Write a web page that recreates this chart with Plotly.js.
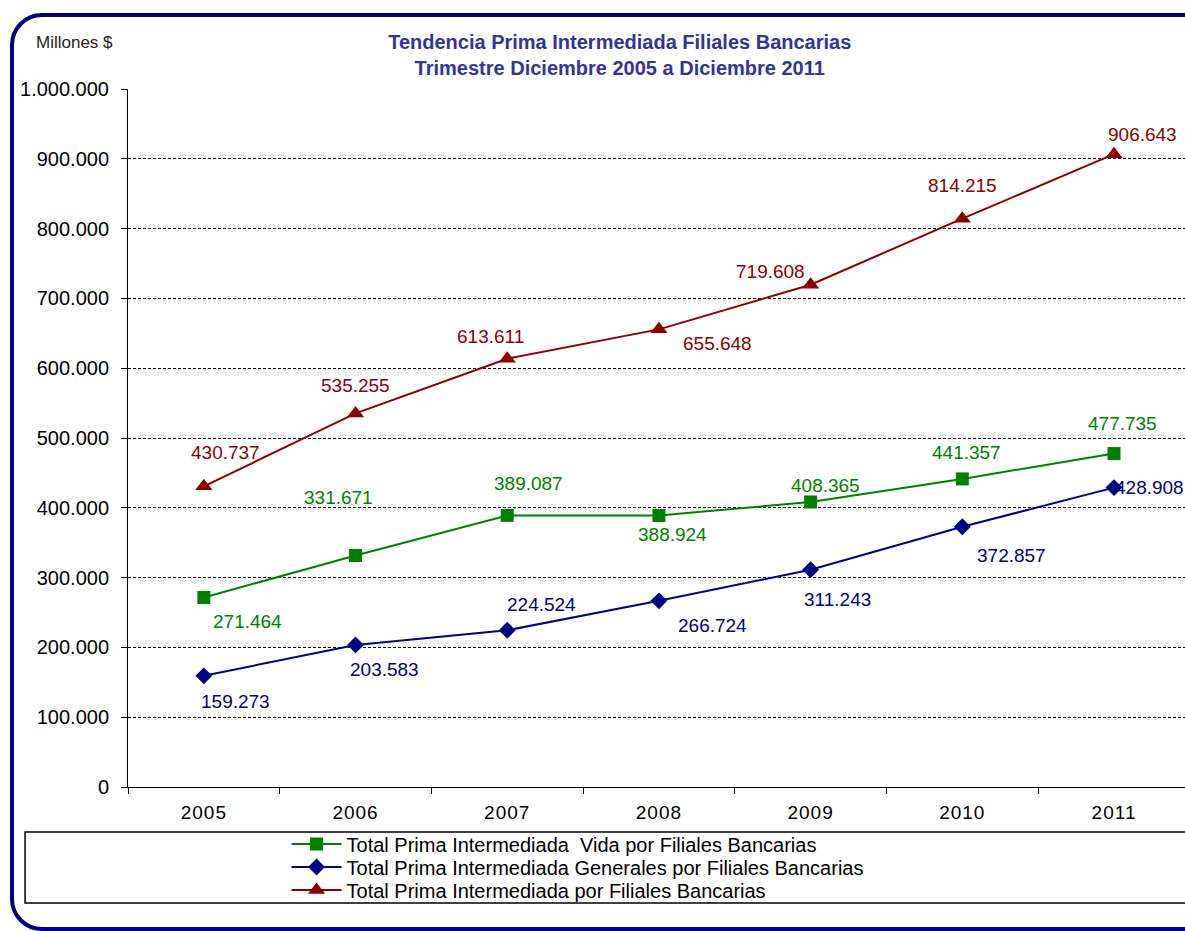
<!DOCTYPE html>
<html>
<head>
<meta charset="utf-8">
<script src="https://cdn.plot.ly/plotly-3.0.1.min.js"></script>
<style>
  html, body { margin: 0; padding: 0; background: #ffffff; }
  #wrap { position: relative; width: 1185px; height: 931px; overflow: hidden; }
  #frame { position: absolute; left: 10px; top: 13px; width: 1200px; height: 910px;
           border: 4px solid #000080; border-radius: 32px; box-sizing: content-box; }
  #chart { position: absolute; left: 0; top: 0; width: 1185px; height: 931px; }
  #chart .xtick text { letter-spacing: 1px; }
</style>
</head>
<body>
<div id="wrap">
  <div id="frame"></div>
  <div id="chart"></div>
</div>
<script>
// ---- data ----
const years = ['2005', '2006', '2007', '2008', '2009', '2010', '2011'];
const vida = [271464, 331671, 389087, 388924, 408365, 441357, 477735];
const generales = [159273, 203583, 224524, 266724, 311243, 372857, 428908];
const total = [430737, 535255, 613611, 655648, 719608, 814215, 906643];
const seriesNames = [
  'Total Prima Intermediada  Vida por Filiales Bancarias',
  'Total Prima Intermediada Generales por Filiales Bancarias',
  'Total Prima Intermediada por Filiales Bancarias'
];
const titleText = 'Tendencia Prima Intermediada Filiales Bancarias<br>Trimestre Diciembre 2005 a Diciembre 2011';
const unitLabel = 'Millones $';

// ---- styles / label offsets (pixels) ----
const colVida = '#008000', colGen = '#000080', colTot = '#8B0000';
const offVida = [[44,-24],[-17,58],[21,32],[14,-19],[15,16],[4,26],[8,30]];
const offGen  = [[32,-26],[29,-25],[34,26],[54,-25],[27,-30],[49,-29],[35,0]];
const offTot  = [[22,34],[0,28],[-17,22],[59,-14],[-40,13],[0,33],[28,20]];

const fmt = v => String(v).replace(/\B(?=(\d{3})+(?!\d))/g, '.');
const baseFont = 'Liberation Sans, Arial, sans-serif';

function labels(vals, offs, color) {
  return vals.map((v, i) => ({
    x: i, y: v, xref: 'x', yref: 'y', text: fmt(v), showarrow: false,
    xanchor: 'center', yanchor: 'middle',
    xshift: offs[i][0], yshift: offs[i][1],
    font: {family: baseFont, size: 19, color: color}
  }));
}

const traces = [
  {x: years, y: vida, name: seriesNames[0], legend: 'legend', type: 'scatter', mode: 'lines+markers',
   line: {color: colVida, width: 2}, marker: {symbol: 'square', size: 13, color: colVida}},
  {x: years, y: generales, name: seriesNames[1], legend: 'legend2', type: 'scatter', mode: 'lines+markers',
   line: {color: colGen, width: 2}, marker: {symbol: 'diamond', size: 13, color: colGen}},
  {x: years, y: total, name: seriesNames[2], legend: 'legend3', type: 'scatter', mode: 'lines+markers',
   line: {color: colTot, width: 2}, marker: {symbol: 'triangle-up', size: 15, color: colTot}}
];

function legendAt(yPaper) {
  return {x: 0.150, y: yPaper, xanchor: 'left', yanchor: 'middle', itemwidth: 50,
          bgcolor: 'rgba(0,0,0,0)', borderwidth: 0,
          font: {family: baseFont, size: 20, color: '#000'}};
}

const layout = {
  width: 1185, height: 931,
  margin: {l: 128, r: 0, t: 89, b: 144},
  paper_bgcolor: 'rgba(0,0,0,0)', plot_bgcolor: 'rgba(0,0,0,0)',
  separators: ',.',
  showlegend: true,
  title: {text: titleText, x: 0.523, xanchor: 'center', y: 0.947, yanchor: 'middle',
          font: {family: 'Liberation Sans Narrow, Arial Narrow, Liberation Sans, sans-serif', size: 20, color: '#333399', weight: 'bold'}},
  xaxis: {
    type: 'category', range: [-0.5, 6.468],
    showline: true, linecolor: '#000', linewidth: 1,
    ticks: 'outside', tickson: 'boundaries', ticklen: 6, tickcolor: '#000',
    showgrid: false, zeroline: false, ticklabelstandoff: 8,
    tickfont: {family: baseFont, size: 19, color: '#000'}
  },
  yaxis: {
    range: [0, 1000000], dtick: 100000, tickformat: ',d',
    showline: true, linecolor: '#000', linewidth: 1,
    ticks: 'outside', ticklen: 6, tickcolor: '#000',
    showgrid: true, gridcolor: '#000', gridwidth: 1, griddash: '3px,2px',
    zeroline: false, ticklabelstandoff: 8,
    tickfont: {family: baseFont, size: 20, color: '#000'}
  },
  legend: legendAt(-0.0817),
  legend2: legendAt(-0.1146),
  legend3: legendAt(-0.1476),
  shapes: [
    {type: 'rect', xref: 'paper', yref: 'paper', x0: -0.0974, x1: 1.02, y0: -0.0645, y1: -0.1662,
     line: {color: '#000', width: 1.5}, fillcolor: 'rgba(0,0,0,0)'}
  ],
  annotations: [
    {x: -0.0885, y: 1.067, xref: 'paper', yref: 'paper', xanchor: 'left', yanchor: 'middle',
     text: unitLabel, showarrow: false, font: {family: baseFont, size: 17, color: '#222'}}
  ].concat(labels(vida, offVida, colVida), labels(generales, offGen, colGen), labels(total, offTot, colTot))
};

Plotly.newPlot('chart', traces, layout, {displayModeBar: false, staticPlot: true});
</script>
</body>
</html>
